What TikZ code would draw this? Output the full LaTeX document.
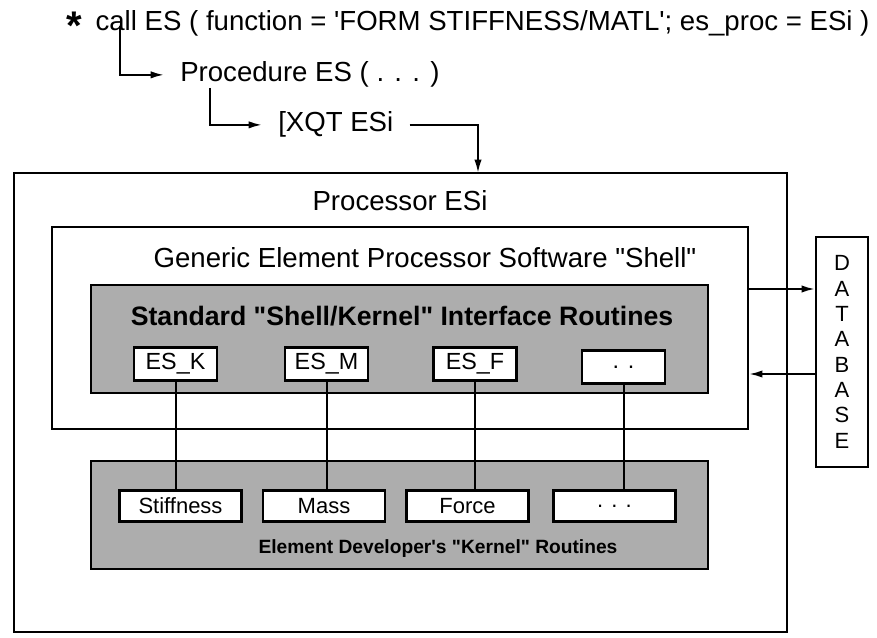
\documentclass[tikz,border=0pt]{standalone}
\usepackage{fontspec}
\setmainfont{Liberation Sans}
\usetikzlibrary{arrows.meta}
\newcommand{\pxl}[1]{#1*0.75pt}
\newcommand{\dq}{\textquotedbl}
\begin{document}
\begin{tikzpicture}[x=0.75pt,y=-0.75pt,
  box/.style={draw,line width=1.6pt,inner sep=0pt},
  shaded/.style={box,fill=black!32},
  wbox/.style={box,fill=white},
  esbox/.style={wbox,minimum width=\pxl{83},minimum height=\pxl{33},font=\fontsize{17.5}{20}\selectfont},
  kbox/.style={wbox,minimum width=\pxl{122},minimum height=\pxl{31},font=\fontsize{16.5}{19}\selectfont},
  big/.style={font=\fontsize{20.7}{24}\selectfont,inner sep=1pt},
  ln/.style={line width=1.5pt},
  arr/.style={line width=1.5pt,-{Latex[length=10pt,width=5.5pt]}},
]
\useasboundingbox (0,0) rectangle (877,638);
% title lines
\node[font=\fontsize{30}{30}\selectfont\bfseries,anchor=base west,inner sep=0pt] (star) at (66,40) {*};
\node[big,anchor=base west] (call) at (94,31) {call ES ( function = \textquotesingle FORM STIFFNESS/MATL\textquotesingle; es\_proc = ESi )};
\node[big,anchor=base west,inner sep=3pt] (procd) at (176,82) {Procedure ES ( . . . )};
\node[big,anchor=base west,inner sep=3pt] (xqt) at (274,132) {[XQT ESi};
\coordinate (c1) at (120,26);
\coordinate (c2) at (210,88);
% boxes
\node[box,line width=2.2pt,minimum width=\pxl{773},minimum height=\pxl{459}] (outer) at (400.5,402.5) {};
\coordinate (hk) at (478,173);
\node[big] (proctitle) at (400,201) {Processor ESi};
\node[box,minimum width=\pxl{696},minimum height=\pxl{202}] (shell) at (400,328) {};
\node[big] (shelltitle) at (425,258) {Generic Element Processor Software \dq Shell\dq};
\node[shaded,minimum width=\pxl{617},minimum height=\pxl{108}] (iface) at (399.5,339) {};
\node[big,font=\fontsize{20}{24}\selectfont\bfseries] (ifacetitle) at (402,316) {Standard \dq Shell/Kernel\dq\ Interface Routines};
\node[shaded,minimum width=\pxl{617},minimum height=\pxl{108}] (kernel) at (399.5,515) {};
\node[font=\fontsize{14.4}{17}\selectfont\bfseries] (kerneltitle) at (438,549) {Element Developer\textquotesingle s \dq Kernel\dq\ Routines};
% ES boxes
\node[esbox] (esk) at (175.5,364) {ES\_K};
\node[esbox] (esm) at (326.5,364) {ES\_M};
\node[esbox] (esf) at (475,364) {ES\_F};
\node[esbox] (esx) at (623.5,367) {. .};
% kernel boxes
\node[kbox] (stiff) at (180.5,506) {Stiffness};
\node[kbox] (mass) at (324,506) {Mass};
\node[kbox] (force) at (467.5,506) {Force};
\node[kbox] (kx) at (614.5,506) {. . .};
% database
\node[box,minimum width=\pxl{52},minimum height=\pxl{230},align=center,font=\fontsize{16.5}{19}\selectfont] (db) at (842,352) {D\\A\\T\\A\\B\\A\\S\\E};
\coordinate (y1) at (0,289);
\coordinate (y2) at (0,374);
% connectors
\draw[arr,shorten >=9pt] (c1) |- (procd.west);
\draw[arr,shorten >=9pt] (c2) |- (xqt.west);
\draw[arr,shorten <=9pt] (xqt.east) -| (hk);
\draw[ln] (esk.south) -- (esk.south |- stiff.north);
\draw[ln] (esm.south) -- (esm.south |- mass.north);
\draw[ln] (esf.south) -- (esf.south |- force.north);
\draw[ln] (esx.south) -- (esx.south |- kx.north);
\draw[arr] (shell.east |- y1) -- (db.west |- y1);
\draw[arr] (db.west |- y2) -- (shell.east |- y2);
\end{tikzpicture}
\end{document}
